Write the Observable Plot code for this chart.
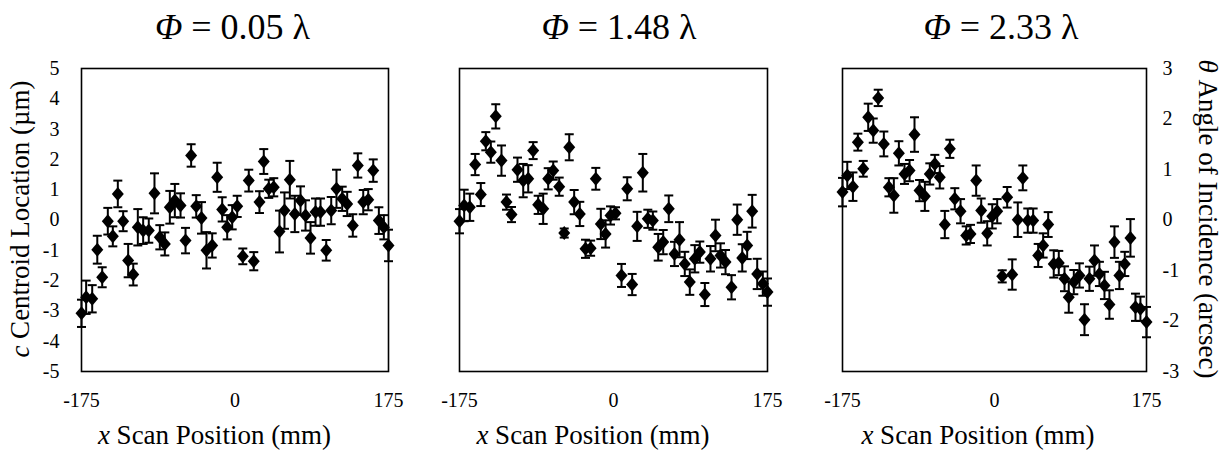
<!DOCTYPE html>
<html><head><meta charset="utf-8">
<script src="https://cdn.jsdelivr.net/npm/d3@7"></script>
<script src="https://cdn.jsdelivr.net/npm/@observablehq/plot@0.6"></script>
<style>
body{margin:0;background:#fff;}
#wrap{position:relative;width:1225px;height:455px;font-family:"Liberation Serif","Times New Roman",serif;color:#000;overflow:hidden;}
.panel{position:absolute;top:0;}
.title{position:absolute;top:9px;font-size:36px;line-height:1;white-space:nowrap;transform:translateX(-50%);}
.xlab{position:absolute;top:422px;font-size:27px;line-height:1;white-space:nowrap;transform:translateX(-50%);}
.ylab{position:absolute;top:219px;font-size:27px;line-height:1;white-space:nowrap;}
i{font-style:italic;}
</style></head>
<body><div id="wrap"></div>
<script>
// Panel titles
const titles = ["0.05", "1.48", "2.33"];
// Tick labels
const xTicks = [-175, 0, 175];
const cTicks = [-5,-4,-3,-2,-1,0,1,2,3,4,5];
const thetaTicks = [-3,-2,-1,0,1,2,3];

// Panel 1 (Φ = 0.05 λ): x position (mm), centroid (µm), error half-width
const x1 = [-175,-169.7,-162.8,-157,-151.4,-145,-139.3,-133.6,-127.5,-121.8,-116,-110.8,-104.7,-98.3,-91.8,-85.7,-80,-74.3,-68.6,-62.1,-56.4,-50,-44.2,-38.2,-32.5,-26,-20.3,-14.6,-8.9,-3.2,2.5,8.9,15.7,21.4,27.9,32.8,38.5,44.2,50.7,56.4,62.5,68.2,74.7,80.4,86.1,91.8,97.5,104,109.7,115.7,122.2,127.9,134.3,140,146.2,151.9,157.6,164,169.7,175];
const y1 = [-3.08,-2.55,-2.6,-0.98,-1.89,-0.04,-0.54,0.86,-0.04,-1.34,-1.8,-0.24,-0.35,-0.35,0.88,-0.57,-0.79,0.42,0.64,0.48,-0.68,2.13,0.45,0.07,-1.0,-0.84,1.41,0.35,-0.24,0.09,0.45,-1.2,1.3,-1.36,0.59,1.93,1.03,1.08,-0.38,0.31,1.33,0.2,0.64,0.15,-0.59,0.26,0.26,-1.0,0.31,1.03,0.7,0.53,-0.18,1.8,0.59,0.67,1.63,-0.02,-0.24,-0.84];
const e1 = [0.45,0.55,0.45,0.46,0.33,0.44,0.33,0.44,0.33,0.55,0.36,0.6,0.44,0.4,0.66,0.4,0.38,0.54,0.55,0.4,0.42,0.37,0.37,0.52,0.6,0.4,0.48,0.4,0.4,0.4,0.35,0.26,0.36,0.3,0.36,0.41,0.3,0.3,0.69,0.6,0.62,0.6,0.47,0.5,0.52,0.45,0.45,0.34,0.45,0.63,0.4,0.4,0.37,0.4,0.4,0.35,0.37,0.44,0.4,0.52];

// Panel 2 (Φ = 1.48 λ)
const x2 = [-175,-169.7,-163.3,-157.2,-150.8,-145.1,-139.4,-133.8,-127.3,-121.6,-115.9,-109.1,-102.6,-96.9,-91.3,-85.6,-79.9,-74.2,-68.5,-61.7,-56,-50.3,-44.7,-38.3,-31.8,-26,-20.1,-14.4,-9,-3.4,2.3,9.1,15.6,21.2,26.9,33.3,39,44.7,50.8,56.5,62.8,69.3,75,81,86.7,92.4,98.1,103.8,110.2,115.9,121.6,127.3,134.1,140.6,146.3,151.9,157.6,163.3,169.7,175];
const y2 = [-0.04,0.48,0.42,1.83,0.84,2.6,2.24,3.42,1.96,0.59,0.18,1.66,1.3,1.36,2.29,0.5,0.37,1.36,1.63,1.1,-0.43,2.4,0.59,0.2,-0.95,-0.93,1.36,-0.13,-0.46,0.15,0.22,-1.83,1.03,-2.13,-0.21,1.56,0.04,-0.02,-0.9,-0.73,0.37,-1.12,-0.65,-1.45,-2.05,-1.28,-1.06,-2.46,-1.28,-0.51,-1.17,-1.39,-2.22,0.01,-1.25,-0.84,0.29,-1.78,-2.1,-2.38];
const e2 = [0.4,0.52,0.45,0.35,0.38,0.3,0.35,0.4,0.5,0.25,0.25,0.4,0.55,0.45,0.28,0.3,0.5,0.35,0.3,0.3,0.15,0.43,0.4,0.4,0.3,0.25,0.36,0.5,0.45,0.3,0.2,0.38,0.38,0.35,0.48,0.62,0.3,0.3,0.44,0.4,0.44,0.4,0.58,0.4,0.42,0.45,0.35,0.38,0.42,0.52,0.4,0.4,0.4,0.5,0.45,0.45,0.54,0.5,0.4,0.45];

// Panel 3 (Φ = 2.33 λ)
const x3 = [-175,-169.5,-163,-157.3,-151.1,-145.4,-139.6,-133.9,-127.4,-121.6,-115.9,-110.1,-103.6,-97.8,-92.1,-86.3,-80.2,-74.5,-68.7,-63,-57.2,-51.4,-45.7,-39.1,-32.6,-27.6,-21.1,-15.3,-8.4,-2.6,3.1,8.9,14.6,20.4,26.8,32.6,38.3,44.5,50.3,56,61.8,68.2,74,80.6,85.5,91.3,97.8,103.6,109.3,115.1,120.8,126.6,132.3,138.1,143.8,150,156.5,162.3,168,175];
const y3 = [0.92,1.47,1.1,2.57,1.69,3.39,2.95,4.03,2.51,1.08,0.81,2.2,1.52,1.63,2.82,0.97,0.78,1.52,1.85,1.41,-0.15,2.35,0.7,0.29,-0.51,-0.46,1.3,0.31,-0.44,0.12,0.29,-1.86,0.75,-1.8,0.01,1.39,-0.02,-0.02,-1.17,-0.84,-0.15,-1.45,-1.42,-1.94,-2.55,-2.05,-1.83,-3.29,-1.94,-1.34,-1.78,-2.16,-2.79,-0.73,-1.83,-1.45,-0.59,-2.88,-2.93,-3.37];
const e3 = [0.47,0.45,0.47,0.28,0.26,0.45,0.4,0.27,0.41,0.3,0.57,0.4,0.33,0.35,0.57,0.35,0.48,0.35,0.3,0.37,0.45,0.3,0.35,0.4,0.3,0.3,0.5,0.4,0.4,0.4,0.4,0.2,0.34,0.5,0.57,0.41,0.4,0.4,0.38,0.4,0.41,0.45,0.4,0.41,0.51,0.4,0.4,0.51,0.4,0.5,0.4,0.45,0.47,0.52,0.45,0.4,0.62,0.45,0.4,0.5];

const panels = [
  {x:x1, y:y1, e:e1, left:0,   width:400, mL:81, mR:12, axis:"left",  titleShift:-2, labShift:-20},
  {x:x2, y:y2, e:e2, left:420, width:360, mL:39, mR:13, axis:"none",  titleShift:6,  labShift:-20},
  {x:x3, y:y3, e:e3, left:800, width:425, mL:42, mR:79, axis:"right", titleShift:7,  labShift:-16}
];

const FONT = '"Liberation Serif","Times New Roman",serif';
const capSymbol = {draw(ctx){ ctx.moveTo(-4.5,0); ctx.lineTo(4.5,0); }};
const diamondSymbol = {draw(ctx){ ctx.moveTo(0,-7); ctx.lineTo(6,0); ctx.lineTo(0,7); ctx.lineTo(-6,0); ctx.closePath(); }};

const wrap = document.getElementById("wrap");

panels.forEach((p, k) => {
  const data = p.x.map((x, i) => ({x, y: p.y[i], lo: p.y[i] - p.e[i], hi: p.y[i] + p.e[i]}));
  const marks = [
    Plot.frame({stroke:"#000", strokeWidth:1.6}),
    Plot.axisX(xTicks, {label:null, tickSize:0, tickPadding:21, tickFormat:d=>String(d), fontSize:20, fontFamily:FONT}),
    Plot.ruleX(data, {x:"x", y1:"lo", y2:"hi", stroke:"#000", strokeWidth:2}),
    Plot.dot(data, {x:"x", y:"hi", symbol:capSymbol, fill:"none", stroke:"#000", strokeWidth:2}),
    Plot.dot(data, {x:"x", y:"lo", symbol:capSymbol, fill:"none", stroke:"#000", strokeWidth:2}),
    Plot.dot(data, {x:"x", y:"y", symbol:diamondSymbol, fill:"#000", stroke:"none"})
  ];
  if (p.axis === "left") {
    marks.push(Plot.axisY(cTicks, {anchor:"left", label:null, tickSize:0, tickPadding:22, tickFormat:d=>String(d), fontSize:20, fontFamily:FONT}));
  } else if (p.axis === "right") {
    marks.push(Plot.axisY(thetaTicks.map(t => t*5/3), {anchor:"right", label:null, tickSize:0, tickPadding:16, tickFormat:d=>String(Math.round(d*3/5)), fontSize:20, fontFamily:FONT}));
  }
  const chart = Plot.plot({
    width: p.width, height: 455,
    marginLeft: p.mL, marginRight: p.mR, marginTop: 68, marginBottom: 84,
    x: {domain:[-175,175], axis:null},
    y: {domain:[-5,5], axis:null},
    style: {fontFamily: FONT, fontSize: "20px", color:"#000", background:"transparent", overflow:"visible"},
    marks
  });
  chart.classList.add("panel");
  chart.style.left = p.left + "px";
  wrap.appendChild(chart);

  const cx = p.left + p.mL + (p.width - p.mL - p.mR) / 2;
  const t = document.createElement("div");
  t.className = "title";
  t.style.left = (cx + p.titleShift) + "px";
  t.innerHTML = "<i>Φ</i> = " + titles[k] + " λ";
  wrap.appendChild(t);

  const xl = document.createElement("div");
  xl.className = "xlab";
  xl.style.left = (cx + p.labShift) + "px";
  xl.innerHTML = "<i>x</i> Scan Position (mm)";
  wrap.appendChild(xl);
});

const yl = document.createElement("div");
yl.className = "ylab";
yl.style.left = "20px";
yl.style.transform = "translate(-50%,-50%) rotate(-90deg)";
yl.innerHTML = "<i>c</i> Centroid Location (µm)";
wrap.appendChild(yl);

const yr = document.createElement("div");
yr.className = "ylab";
yr.style.left = "1207px";
yr.style.transform = "translate(-50%,-50%) rotate(90deg)";
yr.innerHTML = "<i>θ</i> Angle of Incidence (arcsec)";
wrap.appendChild(yr);
</script>
</body></html>
